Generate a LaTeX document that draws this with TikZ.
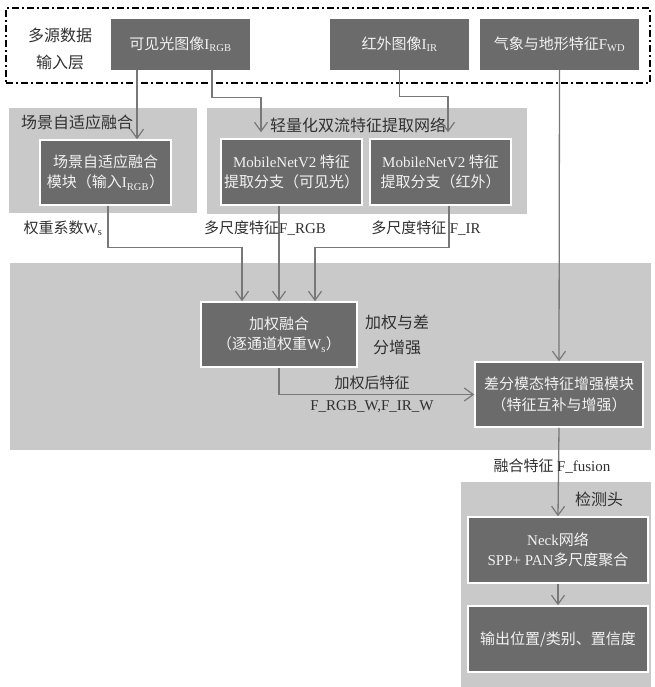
\documentclass[tikz,border=0pt]{standalone}
\usepackage{fontspec}
\setmainfont{Noto Sans CJK SC}
\newfontfamily\lat{Liberation Serif}
\usetikzlibrary{arrows.meta}
\definecolor{boxgray}{HTML}{6B6B6B}
\definecolor{boxtext}{HTML}{F2F2F2}
\definecolor{regiongray}{HTML}{C9C9C9}
\definecolor{linegray}{HTML}{787878}
\definecolor{labeltext}{HTML}{303030}
\newcommand{\sbt}[1]{\textsubscript{\lat #1}}
\begin{document}
\begin{tikzpicture}[x=1pt,y=-1pt,
  font=\fontsize{15}{20.5}\selectfont,
  region/.style={fill=regiongray, draw=none, inner sep=0pt},
  topbox/.style={fill=boxgray, draw=none, text=boxtext, inner sep=0pt, align=center},
  inbox/.style={fill=boxgray, draw=white, line width=1.5pt, text=boxtext, inner sep=0pt, align=center},
  lbl/.style={text=labeltext, inner sep=0pt, align=center},
  conn/.style={draw=linegray, line width=1.3pt, -{Straight Barb[length=9pt,width=13pt,line width=1.2pt]}},
  frameline/.style={draw=black, line width=1.6pt, dash pattern=on 7pt off 3pt on 2pt off 3pt}
]
\useasboundingbox (0,0) rectangle (654,687);

% input frame
\node[frameline, minimum width=644pt, minimum height=75pt, inner sep=0pt] (frame) at (328,45.5) {};
\node[lbl, font=\fontsize{16}{27}\selectfont] (inlabel) at (60,48.5) {多源数据\\输入层};
\node[topbox, minimum width=139pt, minimum height=51pt] (vis) at (180.5,44.5) {可见光图像{\lat I}\sbt{RGB}};
\node[topbox, minimum width=139pt, minimum height=51pt] (ir) at (399.5,44.5) {红外图像{\lat I}\sbt{IR}};
\node[topbox, minimum width=159pt, minimum height=51pt] (wd) at (559.5,44.5) {气象与地形特征{\lat F}\sbt{WD}};

% regions
\node[region, minimum width=188pt, minimum height=105pt] (r1) at (103,160.5) {};
\node[region, minimum width=320pt, minimum height=106pt] (r2) at (367,161) {};
\node[region, minimum width=641pt, minimum height=187pt] (r3) at (330.5,356.5) {};
\node[region, minimum width=190pt, minimum height=205pt] (r4) at (556,584.5) {};

\node[lbl, font=\fontsize{16}{20}\selectfont] (r1lbl) at (77,122) {场景自适应融合};
\node[lbl, font=\fontsize{16}{20}\selectfont] (r2lbl) at (358,125) {轻量化双流特征提取网络};
\node[lbl, font=\fontsize{16}{20}\selectfont] (r4lbl) at (599,499) {检测头};

% inner boxes
\node[inbox, minimum width=131pt, minimum height=65pt] (sa) at (105.5,172.5) {场景自适应融合\\模块（输入{\lat I}\sbt{RGB}）};
\node[inbox, minimum width=141pt, minimum height=66pt] (mbr) at (291.5,172) {{\lat MobileNetV2} 特征\\提取分支（可见光）};
\node[inbox, minimum width=141pt, minimum height=66pt] (mbi) at (440.5,172) {{\lat MobileNetV2} 特征\\提取分支（红外）};
\node[inbox, minimum width=156pt, minimum height=65pt] (wf) at (279,334.5) {加权融合\\（逐通道权重{\lat W}\sbt{s}）};
\node[inbox, minimum width=168pt, minimum height=65pt] (dm) at (559,394.5) {差分模态特征增强模块\\（特征互补与增强）};
\node[inbox, minimum width=180pt, minimum height=66pt] (neck) at (558,550) {{\lat Neck}网络\\{\lat SPP+ PAN}多尺度聚合};
\node[inbox, minimum width=180pt, minimum height=66pt] (out) at (558,639) {输出位置/类别、置信度};

% connectors
\draw[conn] ([xshift=-43.5pt]vis.south) -- ([xshift=31.5pt]sa.north);
\draw[conn] ([xshift=31.5pt]vis.south) |- ([xshift=-30.5pt,yshift=41pt]mbr.north) -- ([xshift=-30.5pt,yshift=6pt]mbr.north);
\draw[conn] (ir.south) |- ([xshift=7.5pt,yshift=42pt]mbi.north) -- ([xshift=7.5pt,yshift=6pt]mbi.north);
\draw[conn] (wd.south) -- (dm.north);
\draw[conn] ([xshift=2.5pt]sa.south) |- ([xshift=-37pt,yshift=54pt]wf.north) -- ([xshift=-37pt]wf.north);
\draw[conn] (mbr.south -| wf.north) -- (wf.north);
\draw[conn] ([xshift=8.5pt]mbi.south) |- ([xshift=36pt,yshift=54pt]wf.north) -- ([xshift=36pt]wf.north);
\draw[conn] (wf.south) |- (dm.west);
\draw[conn] (dm.south) -- (neck.north);
\draw[conn] (neck.south) -- (out.north);

% labels
\node[lbl] (wslbl) at (63,228) {权重系数{\lat W}\sbt{s}};
\node[lbl] (frgb) at (265,228) {多尺度特征{\lat F\_RGB}};
\node[lbl] (fir) at (426,228) {多尺度特征 {\lat F\_IR}};
\node[lbl, font=\fontsize{16}{25}\selectfont] (enh) at (397,335) {加权与差\\分增强};
\node[lbl] (wfeat) at (372,383) {加权后特征};
\node[lbl] (wfeat2) at (372,407) {\lat F\_RGB\_W,F\_IR\_W};
\node[lbl] (fus) at (552,466) {融合特征 {\lat F\_fusion}};
\end{tikzpicture}
\end{document}
